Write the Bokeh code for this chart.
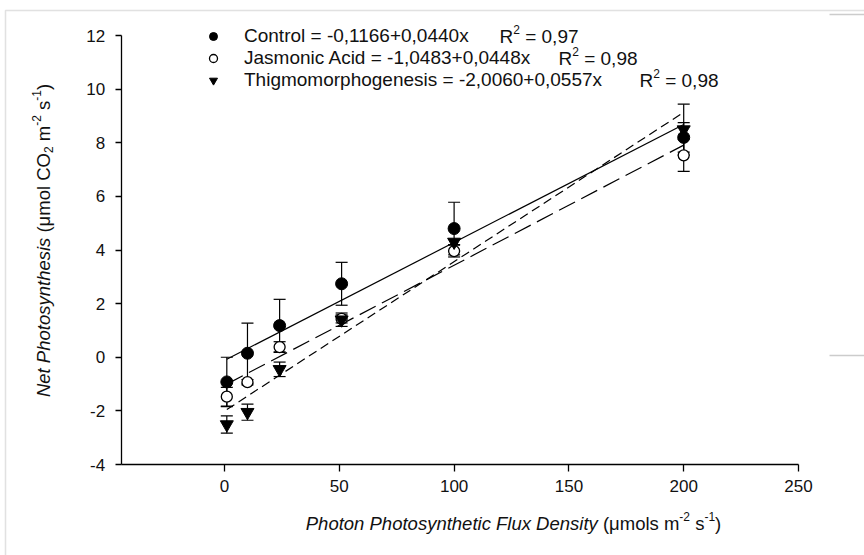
import math
from bokeh.plotting import figure
from bokeh.models import (ColumnDataSource, Whisker, TeeHead, Label, Legend,
                          LegendItem, FixedTicker, Range1d, BoxAnnotation)
from bokeh.embed import file_html
from bokeh.resources import INLINE

# ---------------- data ----------------
ppfd = [1, 10, 24, 51, 100, 200]
control = [-0.92, 0.15, 1.18, 2.74, 4.80, 8.20]
control_se = [0.92, 1.12, 0.98, 0.80, 0.98, 0.55]
jasmonic = [-1.47, -0.93, 0.38, 1.43, 3.96, 7.53]
jasmonic_se = [0.35, 0.10, 0.20, 0.15, 0.22, 0.60]
thigmo = [-2.51, -2.05, -0.45, 1.40, 4.30, 8.49]
thigmo_se = [0.32, 0.30, 0.27, 0.25, 0.10, 0.95]

eq_texts = ["Control = -0,1166+0,0440x",
            "Jasmonic Acid = -1,0483+0,0448x",
            "Thigmomorphogenesis = -2,0060+0,0557x"]
intercepts = [-0.1166, -1.0483, -2.0060]
slopes = [0.0440, 0.0448, 0.0557]
r2_values = ["0,97", "0,98", "0,98"]
x_ticks = [0, 50, 100, 150, 200, 250]
y_ticks = [-4, -2, 0, 2, 4, 6, 8, 10, 12]
x_axis_min, x_axis_max = -45, 250
y_axis_min, y_axis_max = -4, 12

FONT = "Liberation Sans"

# Arial / Liberation Sans advance widths (per 1000 em)
AW = {' ': 278, '(': 333, ')': 333, '-': 333, ',': 278, '.': 278, '=': 584,
      '+': 584, 'μ': 576, 'A': 667, 'C': 722, 'D': 722, 'F': 611, 'J': 500,
      'N': 722, 'O': 778, 'P': 667, 'R': 722, 'T': 611, 'a': 556, 'c': 500,
      'd': 556, 'e': 556, 'g': 556, 'h': 556, 'i': 222, 'l': 222, 'm': 833,
      'n': 556, 'o': 556, 'p': 556, 'r': 333, 's': 500, 't': 278, 'u': 556,
      'x': 500, 'y': 500}


def tw(s, size):
    return sum(AW.get(ch, 556) for ch in s) * size / 1000.0


# ---------------- layout (canvas pixels) ----------------
W, H = 864, 555
AX_L, AX_R = 120.7, 798.0      # canvas x of x_axis_min / x_axis_max
AX_T, AX_B = 35.0, 464.0       # canvas y of y_axis_max / y_axis_min
kx = (AX_R - AX_L) / (x_axis_max - x_axis_min)
ky = (AX_B - AX_T) / (y_axis_max - y_axis_min)
xr = Range1d(x_axis_min - AX_L / kx, x_axis_max + (W - AX_R) / kx)
yr = Range1d(y_axis_min - (H - AX_B) / ky, y_axis_max + AX_T / ky)

p = figure(width=W, height=H, x_range=xr, y_range=yr,
           output_backend="svg", toolbar_location=None,
           min_border=0, min_border_left=0, min_border_right=0,
           min_border_top=0, min_border_bottom=0)
p.background_fill_color = "white"
p.border_fill_color = "white"
p.outline_line_color = None
p.grid.visible = False


def sy(page_y):
    return H - page_y


# faint frame of the scanned figure
p.add_layout(BoxAnnotation(left=5, right=W + 20, top=sy(10), bottom=-20,
                           left_units="screen", right_units="screen",
                           top_units="screen", bottom_units="screen",
                           fill_alpha=0, line_color="#9a9a9a", line_width=1.5,
                           level="underlay"))
for yy in (14, 355):
    p.add_layout(BoxAnnotation(left=829, right=W + 20, top=sy(yy), bottom=sy(yy),
                               left_units="screen", right_units="screen",
                               top_units="screen", bottom_units="screen",
                               fill_alpha=0, line_color="#555555", line_width=1.3,
                               level="underlay"))

p.xaxis.ticker = FixedTicker(ticks=x_ticks)
p.yaxis.ticker = FixedTicker(ticks=y_ticks)
p.xaxis.fixed_location = y_axis_min
p.yaxis.fixed_location = x_axis_min
p.xaxis.bounds = (x_axis_min, x_axis_max)
p.yaxis.bounds = (y_axis_min, y_axis_max)
p.yaxis.major_label_overrides = {v: str(v) for v in y_ticks}
p.xaxis.major_label_overrides = {v: str(v) for v in x_ticks}
for ax in (p.xaxis[0], p.yaxis[0]):
    ax.axis_line_color = "black"
    ax.axis_line_width = 1.3
    ax.major_tick_line_color = "black"
    ax.major_tick_line_width = 1.3
    ax.major_tick_in = 0
    ax.minor_tick_line_color = None
    ax.major_label_text_font = FONT
    ax.major_label_text_font_size = "17px"
    ax.major_label_text_color = "#111111"
p.xaxis.major_tick_out = 7
p.yaxis.major_tick_out = 6
p.xaxis.major_label_standoff = 8
p.yaxis.major_label_standoff = 10

# regression lines
dashes = ["solid", "18 7", "9 5"]
x0, x1 = min(ppfd), max(ppfd)
for a, b, d in zip(intercepts, slopes, dashes):
    p.line([x0, x1], [a + b * x0, a + b * x1], line_color="black",
           line_width=1.2, line_dash=d)


def make_src(y, e):
    return ColumnDataSource(dict(x=ppfd, y=y,
                                 lo=[v - s for v, s in zip(y, e)],
                                 hi=[v + s for v, s in zip(y, e)]))


srcs = [make_src(control, control_se), make_src(jasmonic, jasmonic_se),
        make_src(thigmo, thigmo_se)]
for s in srcs:
    w = Whisker(source=s, base="x", upper="hi", lower="lo",
                line_color="black", line_width=1.2,
                upper_head=TeeHead(size=12, line_color="black", line_width=1.2),
                lower_head=TeeHead(size=12, line_color="black", line_width=1.2))
    p.add_layout(w)

r_c = p.scatter("x", "y", source=srcs[0], marker="circle", size=12,
                fill_color="black", line_color="black")
r_j = p.scatter("x", "y", source=srcs[1], marker="circle", size=11,
                fill_color="white", line_color="black", line_width=1.3)
r_t = p.scatter("x", "y", source=srcs[2], marker="inverted_triangle", size=13,
                fill_color="black", line_color="black")

# ---------------- legend ----------------
LF = 19                        # legend font size
row_y = [36, 58, 80]           # canvas y of legend rows
legend = Legend(items=[LegendItem(label=t, renderers=[r])
                       for t, r in zip(eq_texts, [r_c, r_j, r_t])],
                location=(203, sy(row_y[2] + 11)),
                orientation="vertical", glyph_width=20, glyph_height=22,
                label_height=22, label_standoff=21, spacing=0, padding=0,
                margin=0, border_line_color=None, background_fill_alpha=0,
                label_text_font=FONT, label_text_font_size=f"{LF}px",
                label_text_color="#111111")
p.add_layout(legend)


def add_label(x, y, txt, sz, style="normal", baseline="alphabetic", angle=0.0):
    p.add_layout(Label(x=x, y=y, x_units="screen", y_units="screen",
                       text=txt, text_font=FONT, text_font_size=f"{sz}px",
                       text_font_style=style, text_color="#111111",
                       text_baseline=baseline, text_align="left", angle=angle))


r2_x = [499, 558, 639]         # canvas x where each "R2" starts
for i, val in enumerate(r2_values):
    xs = r2_x[i]
    ys = sy(row_y[i])
    pieces = [("R", LF, 0), ("2", 12, 7), (" = " + val, LF, 0)]
    adv = 0.0
    for txt, sz, dy in pieces:
        lead = len(txt) - len(txt.lstrip(" "))
        adv += tw(" " * lead, sz)
        t = txt.lstrip(" ")
        add_label(xs + adv, ys + dy, t, sz, baseline="middle")
        adv += tw(t, sz)


# ---------------- axis titles ----------------
def rich(pieces, start, base, vertical=False):
    adv = 0.0
    for txt, sz, dy, style in pieces:
        lead = len(txt) - len(txt.lstrip(" "))
        adv += tw(" " * lead, sz)
        t = txt.lstrip(" ")
        if vertical:
            add_label(base - dy, start + adv, t, sz, style, angle=math.pi / 2)
        else:
            add_label(start + adv, base + dy, t, sz, style)
        adv += tw(t, sz)


TS, SS = 18.5, 12
xt = [("Photon Photosynthetic Flux Density", TS, 0, "italic"),
      (" (μmols m", TS, 0, "normal"), ("-2", SS, 7, "normal"),
      (" s", TS, 0, "normal"), ("-1", SS, 7, "normal"), (")", TS, 0, "normal")]
yt = [("Net Photosynthesis", TS, 0, "italic"),
      (" (μmol CO", TS, 0, "normal"), ("2", SS, -5, "normal"),
      (" m", TS, 0, "normal"), ("-2", SS, 7, "normal"),
      (" s", TS, 0, "normal"), ("-1", SS, 7, "normal"), (")", TS, 0, "normal")]
wx = sum(tw(t, s) for t, s, _, _ in xt)
wy = sum(tw(t, s) for t, s, _, _ in yt)
rich(xt, 513 - wx / 2, sy(523))
rich(yt, sy(240) - wy / 2, 43, vertical=True)

open("out.html", "w").write(file_html(p, INLINE))
